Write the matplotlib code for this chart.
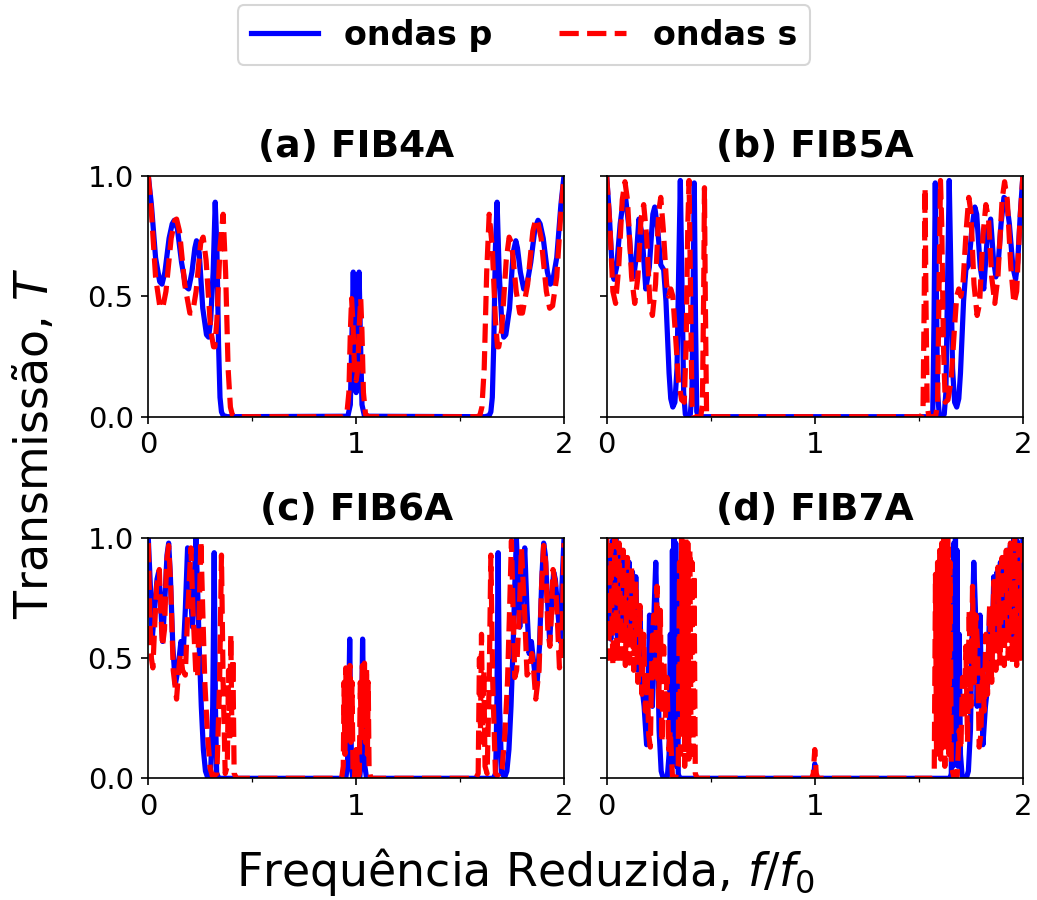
import matplotlib
matplotlib.use("Agg")
import matplotlib.pyplot as plt

# Transmission spectra (f/f0, T)
# Panel (a) FIB4A
fa_p = [0, .015, .035, .055, .066, .080, .100, .115, .125, .140, .160, .180, .194, .210, .224,
        .232, .245, .262, .280, .290, .300, .312, .322, .330, .338, .345, .352, .360, .380,
        .960, .972, .980, .986, .992, 1.000, 1.008, 1.014, 1.020, 1.028, 1.040,
        1.620, 1.640, 1.648, 1.655, 1.662, 1.670, 1.678, 1.688, 1.700, 1.710, 1.720, 1.738,
        1.755, 1.768, 1.776, 1.790, 1.806, 1.820, 1.840, 1.860, 1.875, 1.885, 1.900, 1.920,
        1.934, 1.945, 1.965, 1.985, 2.000]
ta_p = [1.00, .88, .66, .56, .55, .60, .74, .80, .815, .78, .64, .54, .53, .60, .70,
        .73, .68, .45, .34, .33, .40, .60, .89, .70, .30, .08, .02, .005, 0,
        .002, .05, .35, .60, .35, .10, .35, .60, .35, .05, .002,
        0, .005, .02, .08, .30, .70, .89, .60, .40, .33, .34, .45,
        .68, .73, .70, .60, .53, .54, .64, .78, .815, .80, .74, .60,
        .55, .56, .66, .88, 1.00]
fa_s = [0, .015, .035, .055, .069, .085, .110, .128, .136, .150, .175, .200, .213, .230,
        .252, .264, .278, .300, .314, .320, .330, .345, .360, .372, .384, .395, .405, .420,
        .940, .955, .965, .972, .978, .985, .992, 1.000, 1.008, 1.015, 1.022, 1.028, 1.035,
        1.045, 1.060,
        1.580, 1.595, 1.605, 1.616, 1.628, 1.640, 1.655, 1.670, 1.680, 1.686, 1.700, 1.722,
        1.736, 1.748, 1.770, 1.787, 1.800, 1.825, 1.850, 1.864, 1.872, 1.890, 1.915, 1.931,
        1.945, 1.965, 1.985, 2.000]
ta_s = [1.00, .85, .58, .46, .45, .52, .74, .815, .82, .77, .55, .43, .43, .52,
        .72, .745, .65, .36, .29, .29, .40, .70, .84, .60, .20, .04, .005, 0,
        0, .01, .10, .35, .49, .38, .20, .15, .20, .38, .49, .35, .10,
        .01, 0,
        0, .005, .04, .20, .60, .84, .70, .40, .29, .29, .36, .65,
        .745, .72, .52, .43, .43, .55, .77, .82, .815, .74, .52, .45,
        .46, .58, .85, 1.00]

# Panel (b) FIB5A
fb_p = [0, .012, .025, .035, .048, .065, .080, .091, .105, .120, .130, .142, .155, .170,
        .188, .205, .222, .231, .245, .260, .274, .285, .293, .300, .308, .318, .328, .338,
        .346, .354, .362, .370, .378, .390, .402, .410, .416, .421, .427, .433, .445,
        1.555, 1.567, 1.573, 1.579, 1.584, 1.590, 1.598, 1.610, 1.622, 1.630, 1.638, 1.646,
        1.654, 1.662, 1.672, 1.682, 1.692, 1.700, 1.707, 1.715, 1.726, 1.740, 1.755, 1.769,
        1.778, 1.795, 1.812, 1.830, 1.845, 1.858, 1.870, 1.880, 1.895, 1.909, 1.920, 1.935,
        1.952, 1.965, 1.975, 1.988, 2.000]
tb_p = [1.00, .85, .64, .57, .62, .80, .90, .91, .80, .62, .58, .66, .82, .76,
        .53, .62, .84, .87, .78, .63, .61, .48, .32, .18, .075, .04, .06, .20,
        .60, .98, .55, .10, .01, 0, .01, .10, .55, .97, .40, .02, 0,
        0, .02, .40, .97, .55, .10, .01, 0, .01, .10, .55, .98,
        .60, .20, .06, .04, .075, .18, .32, .48, .61, .63, .78, .87,
        .84, .62, .53, .76, .82, .66, .58, .62, .80, .91, .90, .80,
        .62, .57, .64, .85, 1.00]
fb_s = [0, .015, .030, .043, .058, .075, .088, .100, .120, .135, .150, .165, .178, .192,
        .208, .220, .235, .250, .260, .272, .288, .298, .308, .318, .330, .345, .360, .373,
        .382, .390, .396, .402, .410, .420, .452, .460, .466, .470, .474, .480, .490,
        1.510, 1.520, 1.526, 1.530, 1.534, 1.540, 1.548, 1.580, 1.590, 1.598, 1.604, 1.610,
        1.618, 1.627, 1.640, 1.655, 1.670, 1.682, 1.692, 1.702, 1.712, 1.728, 1.740, 1.750,
        1.765, 1.780, 1.792, 1.808, 1.822, 1.835, 1.850, 1.865, 1.880, 1.900, 1.912, 1.925,
        1.942, 1.957, 1.970, 1.985, 2.000]
tb_s = [1.00, .80, .52, .47, .62, .90, .975, .90, .58, .47, .58, .82, .88, .75,
        .47, .42, .55, .85, .91, .78, .55, .50, .53, .50, .35, .15, .07, .06,
        .30, .80, .98, .60, .05, 0, 0, .05, .50, .95, .50, .02, 0,
        0, .02, .50, .95, .50, .05, 0, 0, .05, .60, .98, .80,
        .30, .06, .07, .15, .35, .50, .53, .50, .55, .78, .91, .85,
        .55, .42, .47, .75, .88, .82, .58, .47, .58, .90, .975, .90,
        .62, .47, .52, .80, 1.00]

# Panel (c) FIB6A
fc_p = [0, .010, .018, .030, .042, .050, .058, .069, .080, .090, .098, .106, .118, .130,
        .142, .157, .168, .178, .189, .200, .213, .222, .229, .237, .245, .255, .265, .275,
        .285, .300, .310, .317, .323, .329, .340,
        .950, .958, .964, .969, .973, .978, .983, 1.017, 1.022, 1.027, 1.031, 1.036, 1.042,
        1.050,
        1.660, 1.671, 1.677, 1.683, 1.690, 1.700, 1.715, 1.725, 1.735, 1.745, 1.755, 1.763,
        1.771, 1.778, 1.787, 1.800, 1.811, 1.822, 1.832, 1.843, 1.858, 1.870, 1.882, 1.894,
        1.902, 1.910, 1.920, 1.931, 1.942, 1.950, 1.958, 1.970, 1.982, 1.990, 2.000]
tc_p = [1.00, .80, .57, .70, .83, .86, .75, .57, .75, .93, .98, .85, .55, .39,
        .45, .57, .52, .70, .96, .80, .63, .85, 1.00, .80, .55, .30, .12, .03,
        .005, .02, .30, .94, .30, .02, 0,
        0, .05, .30, .58, .30, .05, 0, 0, .05, .30, .58, .30, .05,
        0,
        0, .02, .30, .94, .30, .02, .005, .03, .12, .30, .55, .80,
        1.00, .85, .63, .80, .96, .70, .52, .57, .45, .39, .55, .85,
        .98, .93, .75, .57, .75, .86, .83, .70, .57, .80, 1.00]
fc_s = [0, .008, .015, .022, .030, .040, .053, .060, .068, .078, .088, .098, .108, .120,
        .136, .146, .155, .165, .178, .190, .205, .215, .228, .237, .245, .253, .262, .272,
        .285, .298, .310, .330, .343, .352, .360, .370, .380, .386, .391, .397, .402, .407,
        .413, .425,
        .930, .938, .942, .946, .950, .955, .960, .965, .970, .975, .980, .985, .992, .997,
        1.000, 1.003, 1.008, 1.015, 1.020, 1.025, 1.030, 1.035, 1.040, 1.045, 1.050, 1.054,
        1.058, 1.062, 1.070,
        1.575, 1.587, 1.593, 1.598, 1.603, 1.609, 1.614, 1.620, 1.630, 1.640, 1.648, 1.657,
        1.670, 1.690, 1.702, 1.715, 1.728, 1.738, 1.747, 1.755, 1.763, 1.772, 1.785, 1.795,
        1.810, 1.822, 1.835, 1.845, 1.854, 1.864, 1.880, 1.892, 1.902, 1.912, 1.922, 1.932,
        1.940, 1.947, 1.960, 1.970, 1.978, 1.985, 1.992, 2.000]
tc_s = [.98, .65, .50, .46, .62, .80, .87, .70, .55, .62, .90, .97, .80, .45,
        .33, .45, .52, .45, .43, .70, .96, .70, .45, .42, .70, .99, .70, .40,
        .18, .04, .005, .02, .40, .93, .40, .02, .05, .45, .15, .60, .20, .50,
        .02, 0,
        0, .05, .40, .10, .46, .15, .48, .20, .47, .15, .40, .02, 0, .10,
        .12, .10, 0, .02, .40, .15, .47, .20, .48, .15, .46, .10,
        .40, .05, 0,
        0, .02, .50, .20, .60, .15, .45, .05, .02, .40, .93, .40,
        .02, .005, .04, .18, .40, .70, .99, .70, .42, .45, .70, .96,
        .70, .43, .45, .52, .45, .33, .45, .80, .97, .90, .62, .55,
        .70, .87, .80, .62, .46, .50, .65, .98]

# Panel (d) FIB7A
fd_p = [0, .006, .012, .020, .028, .036, .044, .052, .060, .068, .076, .084, .092, .100,
        .108, .116, .124, .132, .140, .150, .160, .170, .180, .192, .200, .206, .212, .220,
        .228, .236, .244, .252, .262, .272, .282, .292, .300, .306, .312, .316, .320, .324,
        .328, .332, .336, .340, .344, .350, .360,
        .990, .996, 1.000, 1.004, 1.010,
        1.640, 1.650, 1.656, 1.660, 1.664, 1.668, 1.672, 1.676, 1.680, 1.684, 1.688, 1.694,
        1.700, 1.708, 1.718, 1.728, 1.738, 1.748, 1.756, 1.764, 1.772, 1.780, 1.788, 1.794,
        1.800, 1.808, 1.820, 1.830, 1.840, 1.850, 1.860, 1.868, 1.876, 1.884, 1.892, 1.900,
        1.908, 1.916, 1.924, 1.932, 1.940, 1.948, 1.956, 1.964, 1.972, 1.980, 1.988, 1.994,
        2.000]
td_p = [1.00, .60, .95, .58, .99, .62, 1.00, .58, .97, .60, .95, .62, .92, .56,
        .90, .60, .86, .55, .84, .45, .70, .38, .30, .14, .40, .68, .55, .30,
        .70, .90, .60, .20, .03, 0, 0, .01, .10, .60, .05, .95, .10, 1.00,
        .15, .98, .05, .90, .02, 0, 0,
        0, .02, .06, .02, 0,
        0, 0, .02, .90, .05, .98, .15, 1.00, .10, .95, .05, .60,
        .10, .01, 0, 0, .03, .20, .60, .90, .70, .30, .55, .68,
        .40, .14, .30, .38, .70, .45, .84, .55, .86, .60, .90, .56,
        .92, .62, .95, .60, .97, .58, 1.00, .62, .99, .58, .95, .60,
        1.00]
fd_s = [0, .010, .020, .030, .040, .050, .060, .070, .080, .090, .100, .110, .120, .130,
        .140, .150, .160, .170, .178, .186, .194, .202, .210, .218, .226, .234, .242, .250,
        .258, .266, .274, .282, .290, .298, .306, .316, .330, .344, .350, .355, .360, .365,
        .370, .375, .380, .385, .390, .395, .400, .405, .410, .415, .420, .426, .435,
        .985, .993, .997, 1.000, 1.003, 1.007, 1.015,
        1.565, 1.574, 1.580, 1.585, 1.590, 1.595, 1.600, 1.605, 1.610, 1.615, 1.620, 1.625,
        1.630, 1.635, 1.640, 1.645, 1.650, 1.656, 1.670, 1.684, 1.694, 1.702, 1.710, 1.718,
        1.726, 1.734, 1.742, 1.750, 1.758, 1.766, 1.774, 1.782, 1.790, 1.798, 1.806, 1.814,
        1.822, 1.830, 1.840, 1.850, 1.860, 1.870, 1.880, 1.890, 1.900, 1.910, 1.920, 1.930,
        1.940, 1.950, 1.960, 1.970, 1.980, 1.990, 2.000]
td_s = [1.00, .50, .97, .47, 1.00, .48, .98, .50, .95, .47, .92, .48, .88, .45,
        .82, .40, .72, .35, .60, .28, .45, .18, .13, .55, .68, .40, .80, .30,
        .70, .15, .55, .25, .42, .12, .20, .01, 0, .05, .90, .10, 1.00, .20,
        .95, .05, 1.00, .15, .98, .08, .95, .20, .90, .10, .85, .02, 0,
        0, .02, .08, .12, .08, .02, 0,
        0, .02, .85, .10, .90, .20, .95, .08, .98, .15, 1.00, .05,
        .95, .20, 1.00, .10, .90, .05, 0, .01, .20, .12, .42, .25,
        .55, .15, .70, .30, .80, .40, .68, .55, .13, .18, .45, .28,
        .60, .35, .72, .40, .82, .45, .88, .48, .92, .47, .95, .50,
        .98, .48, 1.00, .47, .97, .50, 1.00]

titles = ["(a) FIB4A", "(b) FIB5A", "(c) FIB6A", "(d) FIB7A"]
series = [(fa_p, ta_p, fa_s, ta_s), (fb_p, tb_p, fb_s, tb_s),
          (fc_p, tc_p, fc_s, tc_s), (fd_p, td_p, fd_s, td_s)]

fig = plt.figure(figsize=(1037 / 150, 900 / 150), dpi=150)

boxes = [[0.1430, 0.5370, 0.4009, 0.2678], [0.5850, 0.5370, 0.4014, 0.2678],
         [0.1430, 0.1352, 0.4009, 0.2667], [0.5850, 0.1352, 0.4014, 0.2667]]

for i in range(4):
    ax = fig.add_axes(boxes[i])
    fp, tp, fs, ts = series[i]
    lp, = ax.plot(fp, tp, "-", color="blue", lw=2.5, label="ondas p")
    ls, = ax.plot(fs, ts, "--", color="red", lw=2.5, label="ondas s")
    ax.set_xlim(0, 2)
    ax.set_ylim(0, 1)
    ax.set_xticks([0, 1, 2])
    ax.set_xticklabels(["0", "1", "2"])
    ax.set_xticks([0.5, 1.5], minor=True)
    ax.set_yticks([0, 0.5, 1.0])
    ax.set_yticklabels(["0.0", "0.5", "1.0"])
    if i % 2 == 1:
        ax.set_yticklabels([])
    ax.tick_params(labelsize=14)
    ax.set_title(titles[i], fontsize=18, fontweight="bold", pad=9)

fig.text(0.034, 0.508, "Transmissão, $T$", rotation=90, fontsize=22,
         ha="center", va="center")
fig.text(0.5067, 0.015, "Frequência Reduzida, $f/f_0$", fontsize=22,
         ha="center", va="baseline")

fig.legend([lp, ls], ["ondas p", "ondas s"], loc="upper center",
           bbox_to_anchor=(0.5053, 0.994), ncol=2, borderaxespad=0,
           prop={"size": 16, "weight": "bold"})

fig.savefig("out.png", dpi=150)
